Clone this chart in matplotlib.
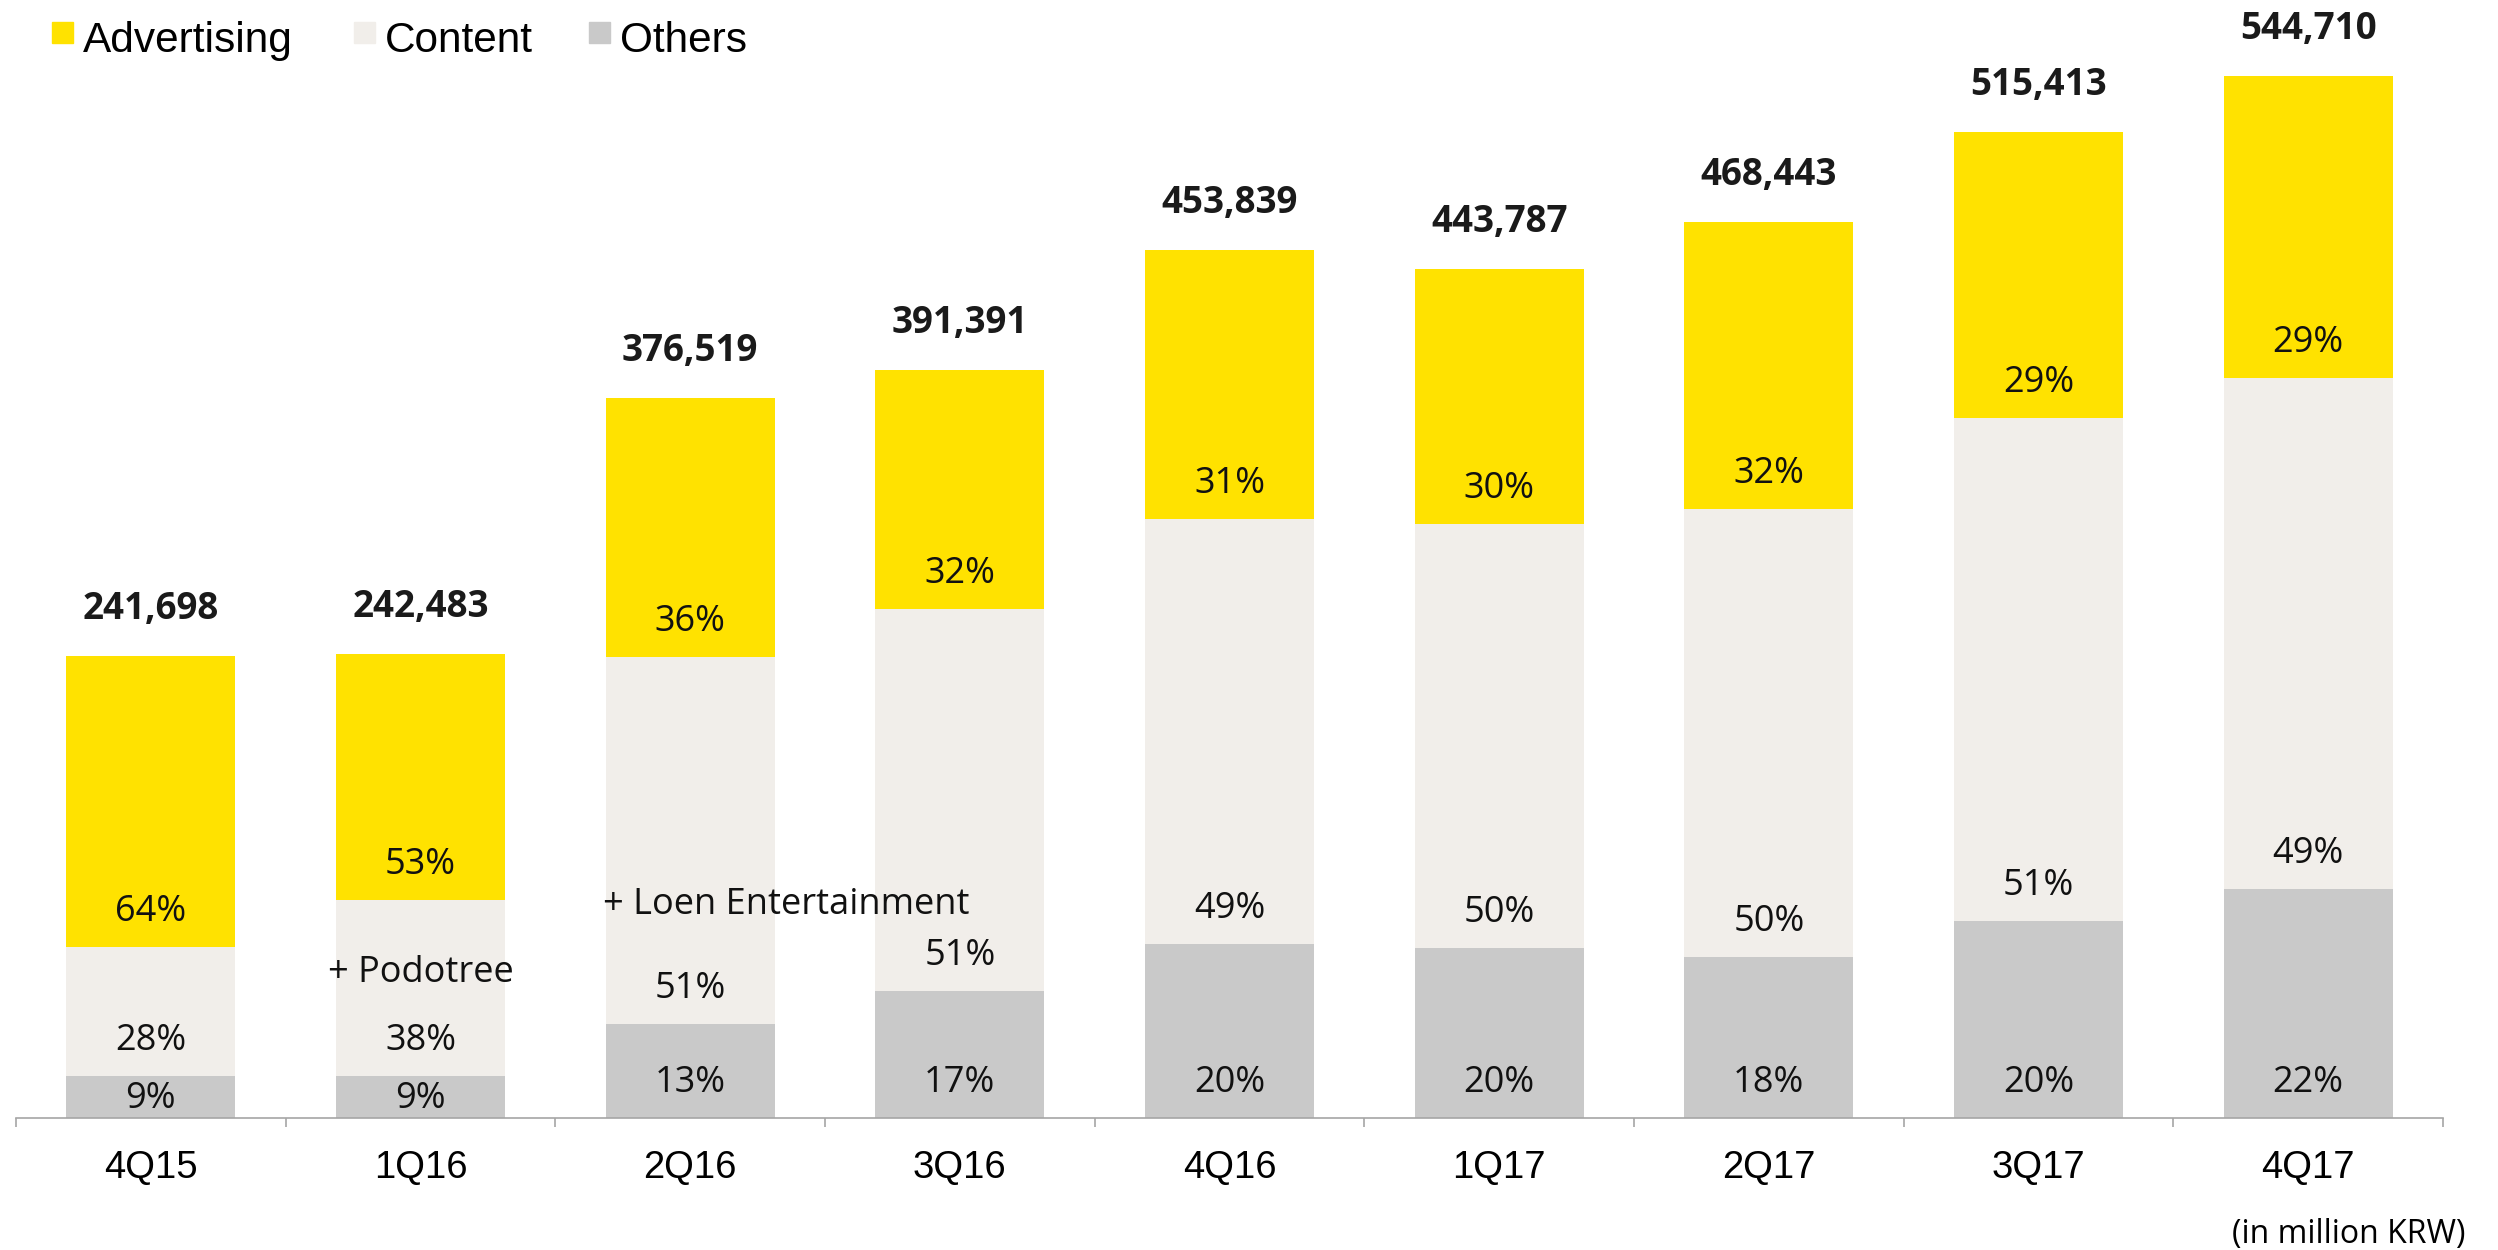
import matplotlib.pyplot as plt
from matplotlib.patches import Rectangle

# revenue by quarter, in million KRW
quarters = ['4Q15', '1Q16', '2Q16', '3Q16', '4Q16', '1Q17', '2Q17', '3Q17', '4Q17']
totals = [241698, 242483, 376519, 391391, 453839, 443787, 468443, 515413, 544710]
others = [21750, 21820, 48950, 66540, 90770, 88760, 84320, 103080, 119840]
content = [67680, 92140, 192020, 199610, 222380, 221890, 234220, 262860, 266910]
advertising = [152268, 128523, 135549, 125241, 140689, 133137, 149903, 149473, 157960]

pct_others = [9, 9, 13, 17, 20, 20, 18, 20, 22]
pct_content = [28, 38, 51, 51, 49, 50, 50, 51, 49]
pct_advertising = [64, 53, 36, 32, 31, 30, 32, 29, 29]

series_names = ['Advertising', 'Content', 'Others']
colors = {'Advertising': '#FFE200', 'Content': '#F1EEEA', 'Others': '#C9C9C9'}

LABEL_FONT = ['Open Sans', 'DejaVu Sans']
AXIS_FONT = ['Liberation Sans', 'DejaVu Sans']

W, H = 2498, 1250
fig = plt.figure(figsize=(W / 100, H / 100), dpi=100)
ax = fig.add_axes([16 / W, 1 - 1118 / H, 2427 / W, 1118 / H])

x = list(range(len(quarters)))
bar_w = 0.627
ymax = 584700
px = ymax / 1118  # data units per pixel

bottom = [0] * len(x)
stack = [(others, pct_others, 'Others'),
         (content, pct_content, 'Content'),
         (advertising, pct_advertising, 'Advertising')]
for vals, pcts, name in stack:
    ax.bar(x, vals, width=bar_w, bottom=bottom, color=colors[name], linewidth=0)
    for i in x:
        y = bottom[i] + min(35 * px, vals[i] / 2 - 2 * px)
        ax.text(i, y, f'{pcts[i]}%', ha='center', va='center',
                fontsize=26, family=LABEL_FONT, color='#111111')
    bottom = [b + v for b, v in zip(bottom, vals)]

# totals on top
for i in x:
    ax.text(i, totals[i] + 47 * px, f'{totals[i]:,}', ha='center', va='center',
            fontsize=26.5, fontweight='bold', family=LABEL_FONT, color='#1a1a1a')

# acquisitions
ax.text(1, 75600, '+ Podotree', ha='center', va='center',
        fontsize=26, family=LABEL_FONT, color='#111111')
ax.text(2 - bar_w / 2 - 0.01, 111400, '+ Loen Entertainment', ha='left', va='center',
        fontsize=26, family=LABEL_FONT, color='#111111')

ax.set_xlim(-0.5, len(x) - 0.5)
ax.set_ylim(0, ymax)
ax.set_yticks([])
for s in ['top', 'left', 'right']:
    ax.spines[s].set_visible(False)
ax.spines['bottom'].set_color('#A6A6A6')
ax.spines['bottom'].set_linewidth(1.2)

ax.set_xticks(x, quarters)
ax.set_xticks([i - 0.5 for i in range(len(x) + 1)], minor=True)
ax.tick_params(axis='x', which='major', length=0, pad=23, labelsize=27.5)
ax.tick_params(axis='x', which='minor', length=6.5, width=1.2, color='#A6A6A6')
for lab in ax.get_xticklabels():
    lab.set_family(AXIS_FONT)

# legend
legend_x = [52, 354, 589]
for name, lx in zip(series_names, legend_x):
    fig.patches.append(Rectangle((lx / W, 1 - 43 / H), 21 / W, 21 / H,
                                 transform=fig.transFigure, color=colors[name]))
    fig.text((lx + 31) / W, 1 - 52 / H, name, ha='left', va='baseline',
             fontsize=30.5, family=AXIS_FONT)

fig.text(2465 / W, 1 - 1234 / H, '(in million KRW)', ha='right', va='center',
         fontsize=23, family=LABEL_FONT)

fig.savefig('out.png', dpi=100)
